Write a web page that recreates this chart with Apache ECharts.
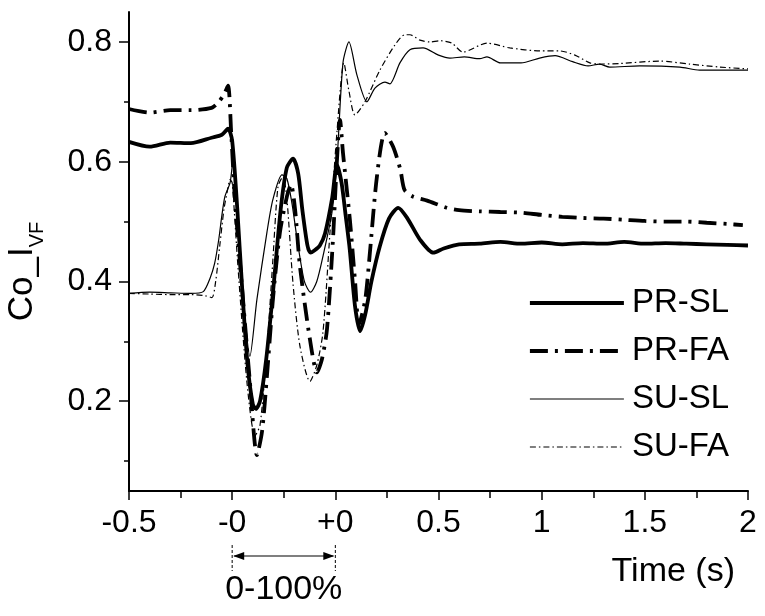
<!DOCTYPE html>
<html>
<head>
<meta charset="utf-8">
<script src="https://cdn.jsdelivr.net/npm/echarts@6/dist/echarts.min.js"></script>
<style>
  html, body { margin: 0; padding: 0; background: #fff; }
  #chart { width: 765px; height: 616px; }
</style>
</head>
<body>
<div id="chart"></div>
<script>
// x is in axis steps: 0 = -0.5 s, 1 = start of transition (-0), 2 = end of transition (+0), then 0.5 s per step
const xTickLabels = ['-0.5', '-0', '+0', '0.5', '1', '1.5', '2'];
const yTickValues = [0.2, 0.4, 0.6, 0.8];
const yMinorValues = [0.1, 0.3, 0.5, 0.7];
const seriesNames = ['PR-SL', 'PR-FA', 'SU-SL', 'SU-FA'];

const prSL = [
  [0, 0.633], [0.2, 0.625], [0.4, 0.632], [0.6, 0.631], [0.8, 0.64], [0.9, 0.645], [0.96, 0.655],
  [1.0, 0.635], [1.05, 0.52], [1.1, 0.38], [1.15, 0.26], [1.2, 0.195], [1.23, 0.187], [1.27, 0.2],
  [1.33, 0.27], [1.4, 0.39], [1.47, 0.52], [1.53, 0.59], [1.59, 0.605], [1.64, 0.58], [1.68, 0.52],
  [1.73, 0.46], [1.76, 0.448], [1.8, 0.452], [1.85, 0.46], [1.9, 0.48], [1.97, 0.54], [2.015, 0.595],
  [2.06, 0.565], [2.1, 0.51], [2.14, 0.453], [2.19, 0.36], [2.24, 0.317], [2.29, 0.345], [2.35, 0.4],
  [2.43, 0.458], [2.52, 0.505], [2.61, 0.523], [2.7, 0.505], [2.82, 0.47], [2.95, 0.448], [3.05, 0.455],
  [3.2, 0.462], [3.4, 0.463], [3.6, 0.466], [3.8, 0.463], [4.0, 0.465], [4.2, 0.462], [4.4, 0.464],
  [4.6, 0.463], [4.8, 0.466], [5.0, 0.463], [5.2, 0.464], [5.4, 0.463], [5.6, 0.462], [5.8, 0.461], [6.0, 0.46]
];

const prFA = [
  [0, 0.688], [0.2, 0.682], [0.4, 0.686], [0.6, 0.686], [0.8, 0.69], [0.86, 0.698], [0.92, 0.712],
  [0.96, 0.727], [0.99, 0.65], [1.027, 0.537], [1.105, 0.37], [1.172, 0.232], [1.24, 0.11], [1.29, 0.15],
  [1.337, 0.242], [1.395, 0.37], [1.463, 0.482], [1.531, 0.542], [1.57, 0.562], [1.61, 0.52],
  [1.657, 0.425], [1.754, 0.303], [1.822, 0.248], [1.87, 0.27], [1.919, 0.32], [1.977, 0.47],
  [2.015, 0.6], [2.045, 0.67], [2.074, 0.615], [2.141, 0.503], [2.19, 0.403], [2.229, 0.328],
  [2.29, 0.37], [2.335, 0.448], [2.403, 0.575], [2.48, 0.648], [2.56, 0.625], [2.63, 0.587],
  [2.67, 0.553], [2.75, 0.542], [2.89, 0.535], [3.08, 0.523], [3.2, 0.519], [3.4, 0.517], [3.6, 0.516],
  [3.8, 0.515], [4.0, 0.511], [4.2, 0.508], [4.4, 0.506], [4.6, 0.505], [4.8, 0.503], [5.0, 0.501],
  [5.2, 0.5], [5.4, 0.5], [5.6, 0.498], [5.8, 0.496], [5.95, 0.494]
];

const suSL = [
  [0, 0.38], [0.2, 0.382], [0.4, 0.381], [0.6, 0.38], [0.72, 0.383], [0.785, 0.405], [0.83, 0.43],
  [0.87, 0.47], [0.9, 0.51], [0.93, 0.542], [0.98, 0.565], [1.008, 0.6], [1.03, 0.57], [1.06, 0.5],
  [1.11, 0.37], [1.172, 0.275], [1.24, 0.37], [1.337, 0.482], [1.395, 0.537], [1.483, 0.578],
  [1.53, 0.572], [1.58, 0.53], [1.63, 0.47], [1.7, 0.4], [1.76, 0.382], [1.82, 0.4], [1.88, 0.442],
  [1.967, 0.515], [2.015, 0.598], [2.074, 0.765], [2.132, 0.8], [2.209, 0.745], [2.306, 0.7],
  [2.384, 0.723], [2.481, 0.733], [2.529, 0.73], [2.626, 0.765], [2.723, 0.787], [2.85, 0.79],
  [3.0, 0.778], [3.11, 0.773], [3.25, 0.775], [3.4, 0.772], [3.47, 0.775], [3.6, 0.765], [3.8, 0.765],
  [3.98, 0.773], [4.13, 0.777], [4.3, 0.767], [4.45, 0.76], [4.56, 0.763], [4.66, 0.758], [4.95, 0.76],
  [5.34, 0.758], [5.53, 0.753], [5.92, 0.753], [6.0, 0.753]
];

const suFA = [
  [0, 0.38], [0.2, 0.379], [0.4, 0.378], [0.6, 0.378], [0.74, 0.376], [0.804, 0.373], [0.84, 0.4],
  [0.88, 0.46], [0.92, 0.52], [0.95, 0.548], [0.98, 0.57], [1.0, 0.565], [1.056, 0.425], [1.143, 0.232],
  [1.221, 0.142], [1.27, 0.16], [1.337, 0.287], [1.395, 0.437], [1.444, 0.558], [1.492, 0.575],
  [1.531, 0.537], [1.589, 0.398], [1.657, 0.292], [1.754, 0.233], [1.82, 0.26], [1.88, 0.315],
  [1.948, 0.482], [2.015, 0.648], [2.083, 0.765], [2.13, 0.72], [2.19, 0.678], [2.287, 0.7],
  [2.432, 0.753], [2.578, 0.795], [2.674, 0.812], [2.723, 0.812], [2.82, 0.803], [2.917, 0.8],
  [3.014, 0.802], [3.13, 0.798], [3.236, 0.783], [3.469, 0.798], [3.692, 0.79], [3.983, 0.785],
  [4.176, 0.785], [4.322, 0.778], [4.467, 0.765], [4.564, 0.763], [4.758, 0.764], [5.145, 0.768],
  [5.436, 0.763], [5.727, 0.758], [6.0, 0.755]
];

const lineWidths = [3.8, 3.8, 1.2, 1.2];
const lineDashes = ['solid', [18, 7, 3, 7], 'solid', [6, 3, 1.5, 3]];

const font = 'Liberation Sans';
const chart = echarts.init(document.getElementById('chart'));

const lineSeries = (i, data) => ({
  name: seriesNames[i],
  type: 'line',
  data: data,
  smooth: 0.25,
  symbol: 'none',
  showSymbol: false,
  lineStyle: { color: '#000', width: lineWidths[i], type: lineDashes[i] },
  itemStyle: { color: '#000' },
  z: lineWidths[i] > 2 ? 3 : 2
});

const option = {
  animation: false,
  backgroundColor: '#fff',
  grid: { left: 129, right: 17, top: 12, bottom: 125, containLabel: false, outerBoundsMode: 'none' },
  legend: {
    data: seriesNames.map((name, i) => ({
      name: name,
      itemStyle: { color: 'rgba(0,0,0,0)', borderWidth: 0, opacity: 0 },
      lineStyle: { width: lineWidths[i], type: lineDashes[i], color: '#000' }
    })),
    orient: 'vertical',
    left: 523,
    top: 281,
    itemWidth: 94,
    itemHeight: 14,
    itemGap: 14,
    textStyle: { fontFamily: font, fontSize: 33, color: '#000', lineHeight: 34, padding: [0, 0, 0, 3] }
  },
  xAxis: {
    type: 'value',
    min: 0,
    max: 6,
    interval: 1,
    name: 'Time (s)',
    nameLocation: 'end',
    nameGap: -13,
    nameTextStyle: {
      fontFamily: font, fontSize: 34, color: '#000',
      align: 'right', verticalAlign: 'top', padding: [64, 0, 0, 0]
    },
    axisLine: { lineStyle: { color: '#000', width: 2 } },
    axisTick: { show: true, length: 9, lineStyle: { color: '#000', width: 1.5 } },
    minorTick: { show: true, splitNumber: 2, length: 7, lineStyle: { color: '#000', width: 1.5 } },
    axisLabel: {
      fontFamily: font, fontSize: 32, color: '#000', margin: 16,
      formatter: (v) => xTickLabels[Math.round(v)]
    },
    splitLine: { show: false }
  },
  yAxis: [
    {
      type: 'value',
      min: 0.05,
      max: 0.85,
      name: '{a|Co_I}{b|VF}',
      nameLocation: 'middle',
      nameRotate: 90,
      nameGap: 82,
      nameTextStyle: {
        padding: [0, 40, 0, 0],
        rich: {
          a: { fontFamily: font, fontSize: 35, color: '#000' },
          b: { fontFamily: font, fontSize: 20, color: '#000', padding: [30, 0, 0, 0] }
        }
      },
      axisLine: { show: true, lineStyle: { color: '#000', width: 2 } },
      axisTick: { show: true, length: 10, customValues: yTickValues, lineStyle: { color: '#000', width: 1.5 } },
      axisLabel: {
        fontFamily: font, fontSize: 32, color: '#000', margin: 17,
        customValues: yTickValues,
        formatter: (v) => v.toFixed(1)
      },
      splitLine: { show: false }
    },
    {
      type: 'value',
      min: 0.05,
      max: 0.85,
      position: 'left',
      axisLine: { show: false },
      axisTick: { show: true, length: 5, customValues: yMinorValues, lineStyle: { color: '#000', width: 1.5 } },
      axisLabel: { show: false },
      splitLine: { show: false }
    }
  ],
  series: [
    lineSeries(0, prSL),
    lineSeries(1, prFA),
    lineSeries(2, suSL),
    lineSeries(3, suFA)
  ]
};

chart.setOption(option);

// 0-100% transition annotation under the axis
const xStart = chart.convertToPixel({ xAxisIndex: 0 }, 1);
const xEnd = chart.convertToPixel({ xAxisIndex: 0 }, 2);
const yBase = chart.convertToPixel({ yAxisIndex: 0 }, 0.05);
const yArrow = yBase + 65;
chart.setOption({
  graphic: [
    { type: 'line', shape: { x1: xStart, y1: yBase + 54, x2: xStart, y2: yBase + 80 },
      style: { stroke: '#000', lineWidth: 1, lineDash: [3, 2] } },
    { type: 'line', shape: { x1: xEnd, y1: yBase + 54, x2: xEnd, y2: yBase + 80 },
      style: { stroke: '#000', lineWidth: 1, lineDash: [3, 2] } },
    { type: 'line', shape: { x1: xStart + 2, y1: yArrow, x2: xEnd - 2, y2: yArrow },
      style: { stroke: '#000', lineWidth: 1.2 } },
    { type: 'polygon', shape: { points: [[xStart + 1, yArrow], [xStart + 12, yArrow - 4], [xStart + 12, yArrow + 4]] },
      style: { fill: '#000' } },
    { type: 'polygon', shape: { points: [[xEnd - 1, yArrow], [xEnd - 12, yArrow - 4], [xEnd - 12, yArrow + 4]] },
      style: { fill: '#000' } },
    { type: 'text', x: (xStart + xEnd) / 2, y: yBase + 99,
      style: { text: '0-100%', fontFamily: font, fontSize: 34, fill: '#000', align: 'center', verticalAlign: 'middle' } }
  ]
});
</script>
</body>
</html>
